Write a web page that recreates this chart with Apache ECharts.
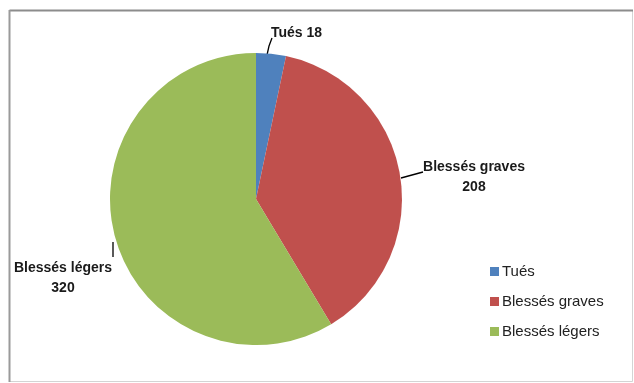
<!DOCTYPE html>
<html>
<head>
<meta charset="utf-8">
<script src="https://cdn.jsdelivr.net/npm/echarts@6/dist/echarts.min.js"></script>
<style>
html,body{margin:0;padding:0;background:#fff;}
#chart{width:634px;height:383px;}
</style>
</head>
<body>
<div id="chart"></div>
<script>
const categories = ['Tués', 'Blessés graves', 'Blessés légers'];
const values = [18, 208, 320];
const colors = ['#4F81BD', '#C0504D', '#9BBB59'];

const FONT = '"Liberation Sans Narrow", "Liberation Sans", sans-serif';
const chart = echarts.init(document.getElementById('chart'), null, {renderer: 'canvas'});

const labelPos = [
  {x: 271, y: 33, align: 'left', labelLinePoints: [[267, 55], [269, 46], [272, 38]]},
  {x: 474, y: 177, align: 'center', labelLinePoints: [[401, 178], [412, 175], [423, 172]]},
  {x: 63, y: 278, align: 'center', labelLinePoints: [[113, 242], [113, 250], [113, 257]]}
];

chart.setOption({
  animation: false,
  backgroundColor: '#fff',
  graphic: [
    {type: 'rect', shape: {x: 9.5, y: 10.5, width: 623, height: 371}, style: {fill: 'none', stroke: '#d4d4d4', lineWidth: 1}, silent: true},
    {type: 'line', shape: {x1: 9.5, y1: 10.5, x2: 633, y2: 10.5}, style: {stroke: '#8c8c8c', lineWidth: 2}, silent: true},
    {type: 'line', shape: {x1: 9.5, y1: 10, x2: 9.5, y2: 382}, style: {stroke: '#9a9a9a', lineWidth: 2}, silent: true}
  ],
  legend: {
    orient: 'vertical',
    left: 485,
    top: 259,
    itemWidth: 9,
    itemHeight: 9,
    itemGap: 15,
    icon: 'rect',
    textStyle: {fontFamily: FONT, fontSize: 15, color: '#222', padding: [0, 0, 0, -2]},
    data: categories
  },
  series: [{
    type: 'pie',
    center: [256, 199],
    radius: 146,
    startAngle: 90,
    clockwise: true,
    data: categories.map((c, i) => ({name: c, value: values[i], itemStyle: {color: colors[i]}})),
    label: {
      show: true,
      fontFamily: FONT,
      fontSize: 14,
      fontWeight: 'bold',
      color: '#1a1a1a',
      lineHeight: 20,
      overflow: 'none',
      formatter: p => p.dataIndex === 0 ? p.name + ' ' + p.value : p.name + '\n' + p.value
    },
    labelLine: {show: true, length: 8, length2: 8, smooth: false, lineStyle: {color: '#000', width: 1.3}},
    labelLayout: p => Object.assign({verticalAlign: 'middle'}, labelPos[p.dataIndex]),
    emphasis: {disabled: true}
  }]
});
</script>
</body>
</html>
